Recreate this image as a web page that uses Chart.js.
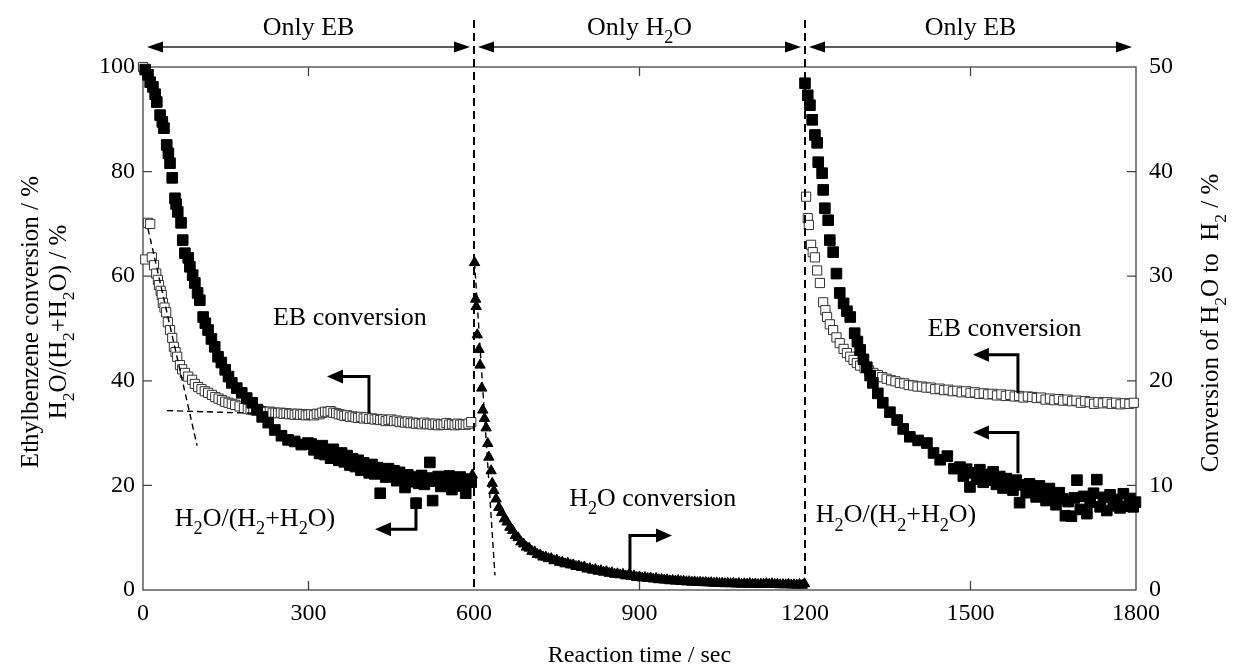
<!DOCTYPE html>
<html><head><meta charset="utf-8">
<script src="https://cdn.jsdelivr.net/npm/chart.js@4"></script>
<style>html,body{margin:0;padding:0;background:#fff}canvas{display:block}</style>
</head><body>
<canvas id="c" width="1236" height="669"></canvas>
<script>
// ---------- tick values ----------
const xTickValues = [0, 300, 600, 900, 1200, 1500, 1800];
const yLeftTickValues = [0, 20, 40, 60, 80, 100];
const yRightTickValues = [0, 10, 20, 30, 40, 50];

// ---------- H2O/(H2+H2O), filled squares (left axis) ----------
const ratioTime1 = [4,9,13,18,22,25,31,35,38,43,46,49,53,58,60,63,69,72,76,82,85,90,94,99,103,109,113,118,124,130,136,142,149,155,161,170,179,188,198,207,216,227,239,251,263,275,287,299,
305,310,315,320,325,330,335,340,345,350,355,360,365,370,375,380,385,390,395,400,405,410,415,420,425,430,435,440,445,450,455,460,465,470,475,480,485,490,495,500,505,510,515,520,525,530,535,540,545,550,555,560,565,570,575,580,585,590,595];
const ratio1 = [99.5,98.5,97.1,96.2,94.8,93.3,90.8,89.5,88.3,85.1,83.5,81.6,78.8,74.9,73.8,72.3,70.2,66.9,64.4,63.5,61.8,60.2,58.7,56.8,55.4,52.2,51.0,49.7,48.0,46.5,44.6,43.5,42.1,40.8,39.6,38.6,37.7,36.7,35.8,34.5,33.1,32.0,30.6,29.5,28.7,28.4,27.8,28.1,
27.9,26.8,27.4,26.1,27.6,25.9,26.7,25.2,26.9,25.6,24.8,26.2,24.5,25.7,23.9,25.1,23.6,24.8,22.9,24.3,23.1,22.4,24.0,22.2,23.4,18.5,22.7,21.6,23.2,21.9,22.8,20.9,22.5,21.2,19.6,22.0,20.7,21.6,16.6,20.4,21.9,20.2,21.4,24.4,17.1,20.8,21.7,19.8,21.3,20.1,21.8,19.2,21.0,20.3,21.6,19.9,18.5,21.2,20.6];
const ratioTime3 = [1200,1205,1209,1213,1218,1222,1224,1231,1233,1236,1242,1245,1251,1257,1263,1270,1276,1282,1290,1295,1300,1306,1312,1318,1323,1332,1341,1354,1367,1378,1390,1405,1421,1433,1445,1458,1470,1481,
1487,1493,1499,1505,1511,1517,1523,1529,1535,1541,1547,1553,1559,1565,1571,1577,1583,1589,1595,1601,1607,1613,1619,1625,1631,1637,1643,1649,1655,1661,1667,1672,1677,1683,1688,1693,1699,1705,1711,1717,1723,1729,1735,1741,1747,1753,1759,1765,1771,1777,1783,1789,1795,1799];
const ratio3 = [96.9,94.6,92.7,89.9,87.0,85.5,81.8,79.7,76.5,73.0,70.7,66.9,64.6,60.5,56.8,54.8,53.3,52.2,49.1,47.5,45.9,44.1,42.6,41.0,39.6,37.6,35.8,34.0,32.5,30.8,29.3,28.6,28.1,26.2,24.9,25.6,23.2,23.5,
21.8,23.1,19.7,22.4,21.2,23.0,20.6,22.1,21.0,22.6,20.2,21.7,19.5,21.3,20.4,19.1,21.0,16.7,20.1,18.6,20.3,19.2,17.8,19.9,18.4,17.1,19.4,18.0,16.3,18.6,17.4,14.2,16.9,14.1,17.6,21.0,15.4,17.9,14.6,16.8,18.5,21.1,15.9,17.7,15.2,18.2,16.1,17.3,15.7,18.4,16.0,17.5,15.9,16.8];

// ---------- EB conversion, open squares (left axis) ----------
const ebTime1 = [0,4,9,13,16,20,24,27,29,32,34,36,39,42,45,49,53,56,59,62,67,71,76,82,89,94,100,106,112,118,125,131,137,143,149,155,161,167,175,183,190,195,
200,205,210,215,220,225,230,235,240,245,250,255,260,265,270,275,280,285,290,295,300,305,310,315,320,325,330,335,340,345,350,355,360,365,370,375,380,385,390,395,
400,405,410,415,420,425,430,435,440,445,450,455,460,465,470,475,480,485,490,495,500,505,510,515,520,525,530,535,540,545,550,555,560,565,570,575,580,585,590,595];
const eb1 = [100,63.2,70.2,70.0,63.6,62.1,60.5,59.3,58.3,57.2,56.4,54.9,54.0,53.1,51.2,49.7,48.2,46.5,45.5,44.6,43.0,42.2,41.5,40.8,40.2,39.4,38.8,38.4,38.0,37.7,37.3,36.9,36.6,36.3,36.0,35.8,35.6,35.4,35.1,34.8,34.6,34.5,
34.4,34.3,34.4,34.2,34.1,34.0,34.1,33.9,33.9,33.8,33.9,33.7,33.8,33.6,33.7,33.5,33.7,33.5,33.6,33.4,33.5,33.6,33.4,33.7,33.6,33.9,34.1,34.0,34.2,33.9,33.8,33.6,33.5,33.3,33.4,33.1,33.2,33.0,32.9,33.1,
32.8,33.0,32.7,32.8,32.6,32.7,32.5,32.6,32.3,32.5,32.6,32.3,32.4,32.1,32.2,32.0,32.2,31.9,32.0,31.8,31.9,31.7,32.0,31.7,31.8,31.6,31.8,31.5,31.7,31.6,31.9,31.6,31.7,31.5,31.8,31.6,31.7,31.6,31.8,32.1];
const ebTime3 = [1202,1205,1207,1211,1214,1218,1222,1227,1233,1237,1240,1245,1251,1257,1263,1270,1276,1282,1288,1294,
1300,1308,1316,1324,1332,1340,1348,1356,1364,1372,1380,1388,1396,1404,1412,1420,1428,1436,1444,1452,1460,1468,1476,1484,1492,1500,1508,1516,1524,1532,
1540,1548,1556,1564,1572,1580,1588,1596,1604,1612,1620,1628,1636,1644,1652,1660,1668,1676,1684,1692,1700,1708,1716,1724,1732,1740,1748,1756,1764,1772,1780,1788,1796];
const eb3 = [75.2,71.1,69.8,66.0,64.6,63.6,61.1,58.7,55.0,53.5,52.2,50.8,49.7,48.3,47.2,46.1,45.3,44.6,44.0,43.4,
42.9,42.4,42.0,41.5,41.1,40.7,40.4,40.1,39.9,39.6,39.5,39.2,39.1,38.9,38.9,38.7,38.7,38.4,38.5,38.2,38.3,38.0,38.1,37.8,38.0,37.7,37.8,37.5,37.6,37.4,
37.5,37.2,37.4,37.1,37.3,37.0,37.1,36.8,37.0,36.9,36.7,36.8,36.4,36.6,36.3,36.5,36.2,36.4,36.1,36.2,35.8,36.1,35.9,35.6,35.9,35.7,35.9,35.6,35.8,35.5,35.7,35.6,35.8];

// ---------- H2O conversion to H2, filled triangles (right axis) ----------
const h2oTime = [597,601,603,604,606,609,611,614,616,619,622,625,627,631,633,636,
640,645,650,655,660,665,670,675,680,685,690,695,700,705,710,715,720,725,730,735,740,745,750,755,760,765,770,775,780,785,790,795,
800,805,810,815,820,825,830,835,840,845,850,855,860,865,870,875,880,885,890,895,900,905,910,915,920,925,930,935,940,945,950,955,960,965,970,975,980,985,990,995,
1000,1005,1010,1015,1020,1025,1030,1035,1040,1045,1050,1055,1060,1065,1070,1075,1080,1085,1090,1095,1100,1105,1110,1115,1120,1125,1130,1135,1140,1145,1150,1155,1160,1165,1170,1175,1180,1185,1190,1195,1199];
const h2oConv = [11.0,31.3,27.8,27.1,24.4,23.0,21.5,19.3,17.2,16.4,15.5,14.0,12.7,11.4,10.2,9.5,
8.7,7.9,7.4,6.8,6.5,6.0,5.7,5.2,5.0,4.6,4.4,4.1,4.0,3.7,3.65,3.4,3.35,3.15,3.15,3.0,3.0,2.8,2.85,2.65,2.65,2.5,2.55,2.4,2.4,2.25,2.3,2.15,
2.2,2.0,2.05,1.9,1.95,1.8,1.85,1.7,1.75,1.6,1.65,1.5,1.55,1.45,1.5,1.35,1.4,1.3,1.35,1.2,1.25,1.15,1.2,1.1,1.15,1.05,1.1,0.98,1.0,0.95,0.97,0.88,0.92,0.85,0.9,0.82,0.84,0.78,0.8,0.75,
0.77,0.72,0.74,0.7,0.72,0.68,0.7,0.65,0.68,0.62,0.66,0.6,0.64,0.6,0.63,0.57,0.62,0.55,0.6,0.56,0.62,0.55,0.58,0.52,0.56,0.55,0.6,0.54,0.6,0.53,0.55,0.5,0.52,0.5,0.54,0.48,0.5,0.46,0.52,0.45,0.6];

// ---------- dashed guide lines ----------
const tangentSteepTime = [9, 98];    const tangentSteep = [69.1, 27.6];
const tangentFlatTime = [43.5, 200]; const tangentFlat = [34.3, 33.8];
const tangentH2OTime = [601, 638];   const tangentH2O = [31.3, 1.4];

// ---------- text & annotations ----------
const phaseDividers = [600, 1200];
const phaseLabels = ['Only EB', 'Only H_2O', 'Only EB'];
const phaseCenters = [300, 900, 1500];
const phaseRanges = [[0, 600], [600, 1200], [1200, 1800]];
const noteTexts = ['EB conversion', 'H_2O/(H_2+H_2O)', 'H_2O conversion', 'EB conversion', 'H_2O/(H_2+H_2O)'];
const noteAt = [[375, 52.3], [203, 13.9], [924, 17.7], [1562, 50.2], [1365, 14.6]];
const elbowArrows = [
  [[409.6, 33.8], [409.6, 40.8], [333.5, 40.8]],
  [[494.8, 17.7], [494.8, 11.6], [420.5, 11.6]],
  [[882.7, 2.8], [882.7, 10.4], [958.9, 10.4]],
  [[1586, 37.6], [1586, 45.0], [1504.4, 45.0]],
  [[1586, 22.3], [1586, 30.1], [1504.4, 30.1]]
];
const xTitle = 'Reaction time / sec';
const yTitle1 = 'Ethylbenzene conversion / %';
const yTitle2 = 'H_2O/(H_2+H_2O) / %';
const y2Title = 'Conversion of H_2O to  H_2 / %';

const SERIF = '"Liberation Serif","Times New Roman",serif';
const FS = 24, FS_NOTE = 26, FS_TITLE = 25;
const pts = (xs, ys) => xs.map((x, i) => ({x: x, y: ys[i]}));

function setFont(ctx, size) { ctx.font = size + 'px ' + SERIF; }
function parseRich(s) {
  const parts = []; let buf = '';
  for (let i = 0; i < s.length; i++) {
    if (s[i] === '_') { if (buf) parts.push([buf, false]); buf = ''; parts.push([s[i + 1], true]); i++; }
    else buf += s[i];
  }
  if (buf) parts.push([buf, false]);
  return parts;
}
function drawRich(ctx, s, x, yc, size, align) {
  const parts = parseRich(s);
  let w = 0;
  for (const [t, sub] of parts) { setFont(ctx, sub ? size * 0.7 : size); w += ctx.measureText(t).width; }
  let cx = align === 'center' ? x - w / 2 : (align === 'right' ? x - w : x);
  const base = yc + size * 0.33;
  ctx.textAlign = 'left'; ctx.textBaseline = 'alphabetic'; ctx.fillStyle = '#000';
  for (const [t, sub] of parts) {
    setFont(ctx, sub ? size * 0.7 : size);
    ctx.fillText(t, cx, base + (sub ? size * 0.32 : 0));
    cx += ctx.measureText(t).width;
  }
}
function head(ctx, x, y, ang, len, half) {
  const c = Math.cos(ang), s = Math.sin(ang);
  ctx.beginPath();
  ctx.moveTo(x, y);
  ctx.lineTo(x - len * c + half * s, y - len * s - half * c);
  ctx.lineTo(x - len * c - half * s, y - len * s + half * c);
  ctx.closePath(); ctx.fill();
}

const decor = {
  id: 'decor',
  beforeDatasetsDraw(chart) {
    const ctx = chart.ctx, a = chart.chartArea;
    const X = chart.scales.x, Y = chart.scales.y, Y2 = chart.scales.y2;
    ctx.save();
    ctx.strokeStyle = '#444'; ctx.lineWidth = 1.3;
    ctx.strokeRect(a.left, a.top, a.right - a.left, a.bottom - a.top);
    const tl = 9;
    ctx.beginPath();
    xTickValues.forEach(v => { const p = X.getPixelForValue(v); if (v > 0 && v < 1800 && phaseDividers.indexOf(v) < 0) { ctx.moveTo(p, a.bottom); ctx.lineTo(p, a.bottom - tl); ctx.moveTo(p, a.top); ctx.lineTo(p, a.top + tl); } });
    yLeftTickValues.forEach(v => { const p = Y.getPixelForValue(v); if (v > 0 && v < 100) { ctx.moveTo(a.left, p); ctx.lineTo(a.left + tl, p); } });
    yRightTickValues.forEach(v => { const p = Y2.getPixelForValue(v); if (v > 0 && v < 50) { ctx.moveTo(a.right, p); ctx.lineTo(a.right - tl, p); } });
    ctx.stroke();
    ctx.restore();
  },
  afterDatasetsDraw(chart) {
    const ctx = chart.ctx, a = chart.chartArea;
    const X = chart.scales.x, Y = chart.scales.y;
    ctx.save();
    ctx.strokeStyle = '#000'; ctx.lineWidth = 2; ctx.setLineDash([8, 5]);
    phaseDividers.forEach(v => { const p = X.getPixelForValue(v); ctx.beginPath(); ctx.moveTo(p, 20); ctx.lineTo(p, a.bottom); ctx.stroke(); });
    ctx.setLineDash([]);
    ctx.fillStyle = '#000'; ctx.strokeStyle = '#222'; ctx.lineWidth = 1.5;
    const ay = 47;
    phaseRanges.forEach(r => {
      const x0 = X.getPixelForValue(r[0]) + 4, x1 = X.getPixelForValue(r[1]) - 4;
      ctx.beginPath(); ctx.moveTo(x0 + 10, ay); ctx.lineTo(x1 - 10, ay); ctx.stroke();
      head(ctx, x0, ay, Math.PI, 16, 5.5);
      head(ctx, x1, ay, 0, 16, 5.5);
    });
    phaseLabels.forEach((t, i) => drawRich(ctx, t, X.getPixelForValue(phaseCenters[i]), 26, FS_NOTE, 'center'));
    noteTexts.forEach((t, i) => drawRich(ctx, t, X.getPixelForValue(noteAt[i][0]), Y.getPixelForValue(noteAt[i][1]), FS_NOTE, 'center'));
    ctx.strokeStyle = '#000'; ctx.lineWidth = 3; ctx.fillStyle = '#000';
    elbowArrows.forEach(arr => {
      const p = arr.map(q => [X.getPixelForValue(q[0]), Y.getPixelForValue(q[1])]);
      const n = p.length, tip = p[n - 1], prev = p[n - 2];
      const ang = Math.atan2(tip[1] - prev[1], tip[0] - prev[0]);
      ctx.beginPath(); ctx.moveTo(p[0][0], p[0][1]);
      for (let i = 1; i < n - 1; i++) ctx.lineTo(p[i][0], p[i][1]);
      ctx.lineTo(tip[0] - 14 * Math.cos(ang), tip[1] - 14 * Math.sin(ang));
      ctx.stroke();
      head(ctx, tip[0], tip[1], ang, 16, 7);
    });
    ctx.restore();
  },
  afterDraw(chart) {
    const ctx = chart.ctx, a = chart.chartArea;
    ctx.save();
    drawRich(ctx, xTitle, (a.left + a.right) / 2, 654, FS, 'center');
    ctx.save(); ctx.translate(30, 322); ctx.rotate(-Math.PI / 2); drawRich(ctx, yTitle1, 0, 0, FS_TITLE, 'center'); ctx.restore();
    ctx.save(); ctx.translate(58, 322); ctx.rotate(-Math.PI / 2); drawRich(ctx, yTitle2, 0, 0, FS_TITLE, 'center'); ctx.restore();
    ctx.save(); ctx.translate(1210, 323); ctx.rotate(-Math.PI / 2); drawRich(ctx, y2Title, 0, 0, FS_TITLE, 'center'); ctx.restore();
    ctx.restore();
  }
};

const tickFont = {family: SERIF, size: FS};
new Chart(document.getElementById('c'), {
  type: 'scatter',
  data: {
    datasets: [
      {data: pts(tangentSteepTime, tangentSteep), showLine: true, borderColor: '#000', borderWidth: 1.4, borderDash: [6, 4], pointRadius: 0, yAxisID: 'y', clip: false},
      {data: pts(tangentFlatTime, tangentFlat), showLine: true, borderColor: '#000', borderWidth: 1.4, borderDash: [6, 4], pointRadius: 0, yAxisID: 'y', clip: false},
      {data: pts(tangentH2OTime, tangentH2O), showLine: true, borderColor: '#000', borderWidth: 1.4, borderDash: [6, 4], pointRadius: 0, yAxisID: 'y2', clip: false},
      {data: pts(ratioTime1, ratio1), pointStyle: 'rect', pointRadius: 7.5, backgroundColor: '#000', borderColor: '#000', borderWidth: 1, yAxisID: 'y', clip: false},
      {data: pts(ratioTime3, ratio3), pointStyle: 'rect', pointRadius: 7.5, backgroundColor: '#000', borderColor: '#000', borderWidth: 1, yAxisID: 'y', clip: false},
      {data: pts(ebTime1, eb1), pointStyle: 'rect', pointRadius: 6.5, backgroundColor: '#fff', borderColor: '#333', borderWidth: 1, yAxisID: 'y', clip: false},
      {data: pts(ebTime3, eb3), pointStyle: 'rect', pointRadius: 6.5, backgroundColor: '#fff', borderColor: '#333', borderWidth: 1, yAxisID: 'y', clip: false},
      {data: pts(h2oTime, h2oConv), pointStyle: 'triangle', pointRadius: 6, backgroundColor: '#000', borderColor: '#000', borderWidth: 1, yAxisID: 'y2', clip: false}
    ]
  },
  options: {
    responsive: false, animation: false, devicePixelRatio: 1,
    events: [],
    plugins: {legend: {display: false}, tooltip: {enabled: false}},
    layout: {padding: {top: 67, left: 0, right: 0, bottom: 0}},
    scales: {
      x: {type: 'linear', position: 'bottom', min: 0, max: 1800,
        afterBuildTicks: s => { s.ticks = xTickValues.map(v => ({value: v})); },
        afterFit: s => { s.height = 79; },
        grid: {display: false, drawTicks: false}, border: {display: false},
        ticks: {font: tickFont, color: '#000', padding: 9, maxRotation: 0, autoSkip: false, callback: v => String(v)}},
      y: {type: 'linear', position: 'left', min: 0, max: 100,
        afterBuildTicks: s => { s.ticks = yLeftTickValues.map(v => ({value: v})); },
        afterFit: s => { s.width = 143; },
        grid: {display: false, drawTicks: false}, border: {display: false},
        ticks: {font: tickFont, color: '#000', padding: 8, autoSkip: false, callback: v => String(v)}},
      y2: {type: 'linear', position: 'right', min: 0, max: 50,
        afterBuildTicks: s => { s.ticks = yRightTickValues.map(v => ({value: v})); },
        afterFit: s => { s.width = 100; },
        grid: {display: false, drawTicks: false}, border: {display: false},
        ticks: {font: tickFont, color: '#000', padding: 13, autoSkip: false, callback: v => String(v)}}
    }
  },
  plugins: [decor]
});
</script>
</body></html>
